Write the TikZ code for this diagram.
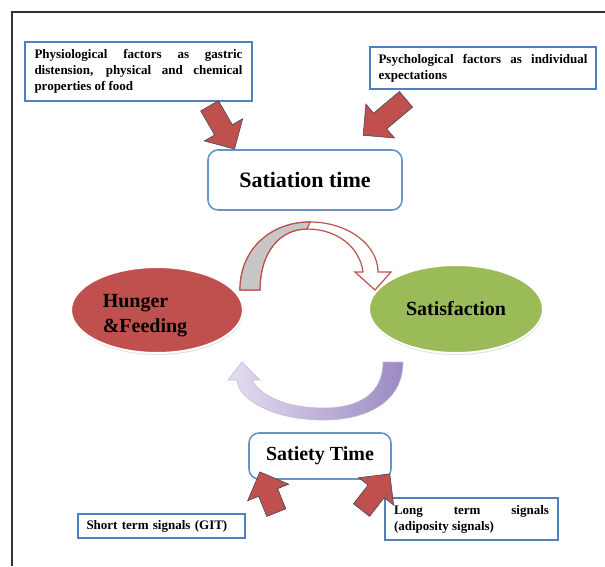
\documentclass[tikz,border=0pt]{standalone}
\usepackage{fontspec}
\setmainfont{Liberation Serif}
\usetikzlibrary{shapes.geometric, shapes.arrows, shadows}
\definecolor{boxblue}{HTML}{4F81BD}
\definecolor{hungred}{HTML}{C0504D}
\definecolor{satgreen}{HTML}{9BBB59}
\definecolor{lilac}{HTML}{E6DEF0}
\definecolor{lilacdark}{HTML}{9A8AC2}
\hyphenpenalty=10000

\begin{document}
\begin{tikzpicture}[x=1pt, y=-1pt,
  infobox/.style={draw=boxblue, line width=2.2pt, fill=white, inner sep=0pt, align=justify,
                  font=\bfseries\fontsize{13}{16}\selectfont},
  timebox/.style={draw=boxblue!85, line width=1.6pt, rounded corners=10pt, fill=white},
  bigoval/.style={ellipse, draw=white, line width=2pt, inner sep=0pt,
                  drop shadow={opacity=.25, shadow xshift=.5pt, shadow yshift=-2pt}},
  redarrow/.style={single arrow, fill=hungred, draw=boxblue!50!black, line width=.5pt,
                   inner sep=10pt, single arrow head extend=12pt}]
  \useasboundingbox (0,0) rectangle (605,566);
  \draw[line width=1.2pt, black!80] (12,566) -- (12,12) -- (605,12);

  % info boxes
  \node[infobox, minimum width=227, minimum height=59, text width=208] (physio) at (138.5,71.5)
    {Physiological factors as gastric\linebreak distension, physical and chemical\linebreak properties of food};
  \node[infobox, minimum width=226, minimum height=42, text width=209] (psycho) at (483,68)
    {Psychological factors as individual\linebreak expectations};
  \node[infobox, minimum width=167, minimum height=24, text width=150, align=left] (shortsig) at (161.5,526)
    {Short term signals (GIT)};
  \node[infobox, minimum width=173, minimum height=42, text width=155] (longsig) at (471.5,519)
    {Long term signals\linebreak (adiposity signals)};

  % time boxes
  \node[timebox, minimum width=194, minimum height=60, font=\bfseries\fontsize{22}{26}\selectfont]
    (satiation) at (305,180) {Satiation time};
  \node[timebox, minimum width=142, minimum height=46, font=\bfseries\fontsize{20}{24}\selectfont]
    (satiety) at (320,456) {Satiety Time};

  % ovals
  \node[bigoval, fill=hungred, minimum width=172, minimum height=86] (hunger) at (157,310) {};
  \node[align=left, font=\bfseries\fontsize{20}{25}\selectfont] (hungerlbl)
    at ([xshift=-12pt, yshift=-6pt]hunger.center) {Hunger\\\&Feeding};
  \node[bigoval, fill=satgreen, minimum width=174, minimum height=88,
        font=\bfseries\fontsize{20}{24}\selectfont] (satisf) at (456,309) {Satisfaction};

  % curved arrow over the top
  \draw[hungred, line width=1.2pt, fill=white]
    (240,290) .. controls (240,248) and (272,222) .. (310,222)
    .. controls (348,222) and (378,245) .. (378,272) -- (391,272) -- (375,290) -- (355,272) -- (363,272)
    .. controls (360,248) and (338,229) .. (307,229)
    .. controls (280,229) and (260,252) .. (260,290) -- cycle;
  \filldraw[hungred, line width=1.2pt, fill=black!22]
    (240,290) .. controls (240,248) and (272,222) .. (310,222) -- (307,229)
    .. controls (280,229) and (260,252) .. (260,290) -- cycle;

  % curved arrow underneath
  \draw[lilacdark!60, line width=.6pt, left color=lilac, right color=lilacdark]
    (403,362) .. controls (403,400) and (370,420) .. (323,420)
    .. controls (275,420) and (238,400) .. (237,380) -- (228,380) -- (242,362) -- (260,380) -- (252,380)
    .. controls (262,398) and (290,408) .. (323,408)
    .. controls (360,408) and (383,393) .. (383,362) -- cycle;

  % block arrows
  \foreach \aname/\ax/\ay/\aang/\alen in {arrphysio/219.5/123/-60/50, arrpsycho/388.5/114/220/56,
                                           arrshort/270/497/112/44, arrlong/372.5/496/52/46} {
    \node[redarrow, rotate=\aang, minimum height=\alen] (\aname) at (\ax,\ay) {};
  }
\end{tikzpicture}
\end{document}
